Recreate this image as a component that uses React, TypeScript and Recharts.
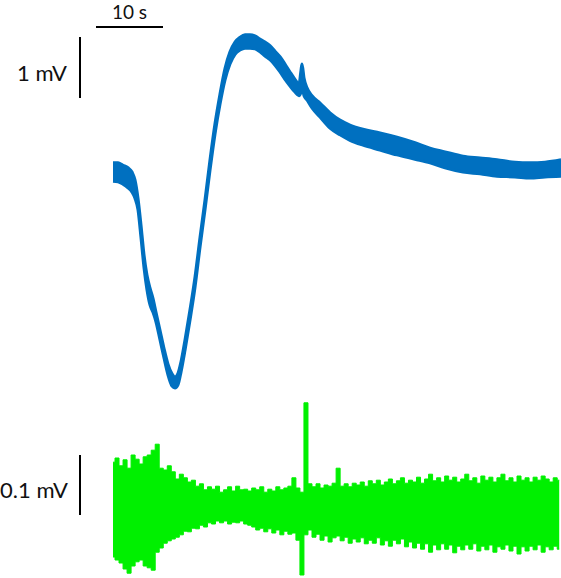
import { ComposedChart, Area, XAxis, YAxis, ReferenceLine } from 'recharts';

// upper trace: sample times (s) and the edges of the noisy band (mV)
const blueTime = [
  0, 0.75, 1.49, 2.24, 2.84, 3.28, 3.73, 4.18, 4.63, 5.07, 5.52, 5.97, 6.42, 7.01, 7.61, 8.21,
  8.81, 9.25, 9.7, 10.15, 10.75, 11.49, 12.24, 12.99, 13.73, 14.48, 15.22, 15.97, 16.72, 17.46,
  18.21, 18.96, 19.7, 20.45, 21.19, 21.94, 22.69, 23.43, 24.18, 24.93, 25.67, 26.42, 27.16, 27.76,
  28.06, 28.21, 28.51, 28.96, 29.7, 30.9, 32.39, 33.88, 35.37, 37.31, 39.85, 42.39, 45.07, 47.31,
  49.55, 52.24, 54.78, 57.31, 60.0, 62.24, 64.48, 66.87,
];
const blueUpper = [
  0.15, 0.15, 0.11, 0.07, 0, -0.13, -0.43, -0.87, -1.36, -1.69, -1.9, -2.07, -2.3, -2.59, -2.89, -3.15,
  -3.31, -3.36, -3.3, -3.11, -2.75, -2.26, -1.72, -1.07, -0.46, 0.2, 0.79, 1.28, 1.7, 1.97,
  2.13, 2.21, 2.25, 2.25, 2.23, 2.18, 2.13, 2.07, 1.98, 1.89, 1.77, 1.64, 1.52, 1.44,
  1.67, 1.77, 1.54, 1.38, 1.25, 1.13, 0.97, 0.85, 0.77, 0.7, 0.64, 0.57, 0.48, 0.39,
  0.33, 0.26, 0.23, 0.2, 0.16, 0.15, 0.16, 0.2,
];
const blueLower = [
  -0.15, -0.16, -0.2, -0.26, -0.33, -0.43, -0.62, -1.08, -1.57, -1.93, -2.18, -2.3, -2.46, -2.75, -3.05, -3.33,
  -3.51, -3.54, -3.49, -3.28, -2.92, -2.43, -1.89, -1.23, -0.62, 0.03, 0.62, 1.11, 1.51, 1.77,
  1.93, 2.0, 2.03, 2.03, 2.02, 1.97, 1.9, 1.84, 1.75, 1.64, 1.52, 1.41, 1.31, 1.25,
  1.31, 1.38, 1.25, 1.18, 1.05, 0.9, 0.72, 0.61, 0.52, 0.44, 0.36, 0.28, 0.21, 0.15,
  0.07, 0, -0.03, -0.07, -0.08, -0.1, -0.08, -0.07,
];

// lower trace: one envelope sample every 0.6 s (µV)
const greenStep = 0.6;
const greenUpper = [
  93, 100, 87, 97, 83, 105, 98, 90, 102, 105, 113, 123, 83, 80, 87, 77, 65, 73, 67, 60,
  63, 53, 57, 47, 52, 48, 53, 43, 47, 52, 45, 53, 47, 48, 45, 50, 47, 52, 43, 48,
  45, 52, 47, 50, 53, 67, 50, 43, 192, 57, 52, 57, 50, 55, 53, 58, 83, 53, 57, 52,
  58, 55, 60, 53, 62, 57, 63, 55, 60, 65, 57, 62, 67, 58, 63, 60, 68, 58, 65, 73,
  62, 67, 60, 70, 63, 68, 60, 65, 73, 62, 67, 58, 70, 63, 68, 60, 67, 73, 62, 67,
  60, 70, 63, 67, 60, 68, 63, 70, 65, 60, 67, 63,
];
const greenLower = [
  -65, -70, -75, -85, -92, -80, -73, -70, -80, -83, -87, -57, -50, -42, -38, -35, -32, -28, -22, -23,
  -17, -18, -12, -15, -8, -10, -5, -8, -5, -10, -7, -8, -5, -10, -12, -15, -20, -17, -23, -18,
  -25, -20, -28, -22, -27, -25, -37, -95, -28, -20, -32, -27, -37, -30, -40, -33, -30, -38, -32, -42,
  -35, -40, -33, -43, -37, -42, -33, -45, -38, -47, -37, -43, -35, -48, -40, -50, -42, -52, -43, -57,
  -45, -53, -43, -52, -45, -58, -47, -53, -45, -52, -43, -55, -47, -53, -45, -57, -48, -52, -45, -55,
  -47, -60, -48, -55, -47, -53, -45, -57, -48, -53, -47, -52,
];

// scale bars
const scaleTime = 10; // s
const scaleBlue = 1; // mV
const scaleGreen = 100; // µV

const W = 561;
const TRACE_LEFT = 113;
const PX_PER_S = 6.7;
const BLUE_H = 400;
const BLUE_ZERO = 172;
const PX_PER_MV = 61;
const GREEN_H = 178;
const GREEN_ZERO = 118;
const PX_PER_UV = 0.6;

const tAt = (px: number) => (px - TRACE_LEFT) / PX_PER_S;
const blueAt = (py: number) => (BLUE_ZERO - py) / PX_PER_MV;
const greenAt = (py: number) => (GREEN_ZERO - py) / PX_PER_UV;

const tDomain = [tAt(0), tAt(W)];
const blueDomain = [blueAt(BLUE_H), blueAt(0)];
const greenDomain = [greenAt(GREEN_H), greenAt(0)];

const blueData = blueTime.map((t, i) => ({ t, band: [blueLower[i], blueUpper[i]] }));
const greenData = greenUpper.map((hi, i) => ({ t: i * greenStep, band: [greenLower[i], hi] }));

const FONT = 'Lato, "Open Sans", sans-serif';
const labelStyle = { fill: '#111', fontSize: 22, fontFamily: FONT };

const barLeft = tAt(96);
const vBarX = tAt(80);
const blueBarTop = blueAt(37);
const greenBarBottom = greenAt(115);

export default function App() {
  return (
    <div style={{ position: 'absolute', left: 0, top: 0, width: W, height: 578, background: '#fff' }}>
      <ComposedChart width={W} height={BLUE_H} data={blueData} margin={{ top: 0, right: 0, bottom: 0, left: 0 }}>
        <XAxis dataKey="t" type="number" domain={tDomain} allowDataOverflow hide />
        <YAxis type="number" domain={blueDomain} allowDataOverflow hide />
        <Area
          dataKey="band"
          type="monotone"
          fill="#0070C0"
          fillOpacity={1}
          stroke="#0070C0"
          strokeWidth={3}
          dot={false}
          activeDot={false}
          isAnimationActive={false}
        />
        <ReferenceLine
          segment={[
            { x: barLeft, y: blueAt(27) },
            { x: barLeft + scaleTime, y: blueAt(27) },
          ]}
          stroke="#000"
          strokeWidth={2}
          label={{ value: '10 s', position: 'top', offset: 8, ...labelStyle, fontSize: 19 }}
        />
        <ReferenceLine
          segment={[
            { x: vBarX, y: blueBarTop },
            { x: vBarX, y: blueBarTop - scaleBlue },
          ]}
          stroke="#000"
          strokeWidth={2}
          label={{ value: '1 mV', position: 'left', offset: 13, dy: 6, ...labelStyle }}
        />
      </ComposedChart>
      <ComposedChart width={W} height={GREEN_H} data={greenData} margin={{ top: 0, right: 0, bottom: 0, left: 0 }}>
        <XAxis dataKey="t" type="number" domain={tDomain} allowDataOverflow hide />
        <YAxis type="number" domain={greenDomain} allowDataOverflow hide />
        <Area
          dataKey="band"
          type="step"
          fill="#00F000"
          fillOpacity={1}
          stroke="#00F000"
          strokeWidth={1}
          dot={false}
          activeDot={false}
          isAnimationActive={false}
        />
        <ReferenceLine
          segment={[
            { x: vBarX, y: greenBarBottom },
            { x: vBarX, y: greenBarBottom + scaleGreen },
          ]}
          stroke="#000"
          strokeWidth={2}
          label={{ value: '0.1 mV', position: 'left', offset: 12, dy: 5, ...labelStyle }}
        />
      </ComposedChart>
    </div>
  );
}
